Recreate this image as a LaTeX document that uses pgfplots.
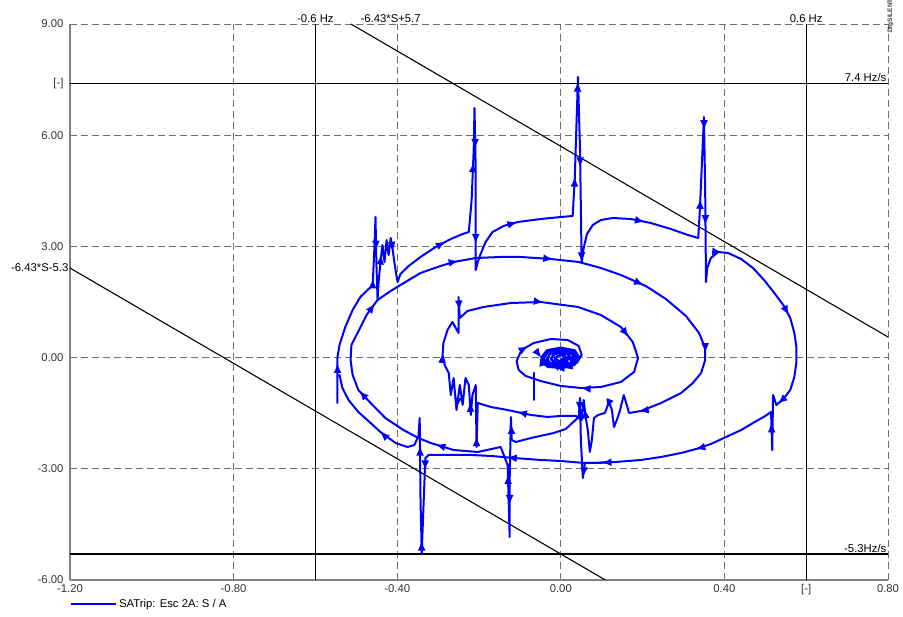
\documentclass[border=0pt]{standalone}
\usepackage{fontspec}
\setmainfont{Liberation Sans}
\usepackage{pgfplots}
\pgfplotsset{compat=1.18}
\usetikzlibrary{decorations.markings,arrows.meta}
\definecolor{trj}{RGB}{0,0,255}
\definecolor{gridgray}{RGB}{110,110,110}
\definecolor{axgray}{RGB}{130,130,130}
\begin{document}
\begin{tikzpicture}[font=\fontsize{11.3}{13}\selectfont]
\tikzset{
  traj/.style={trj, line width=2pt, line join=round, line cap=round},
  trajarr/.style={traj, postaction={decorate}, decoration={markings, mark=between positions 40pt and 1 step 95pt with {\arrow{Latex[length=10pt,width=8pt]}}}},
  refl/.style={black, line width=1.3pt},
}
\begin{axis}[
  scale only axis, width=818pt, height=556pt,
  at={(0,0)}, anchor=south west,
  xmin=-1.2, xmax=0.8, ymin=-6, ymax=9,
  axis x line*=bottom, axis y line*=left,
  axis line style={axgray, line width=1.4pt, -},
  xtick={-1.2,-0.8,-0.4,0,0.4,0.6,0.8},
  xticklabels={-1.20,-0.80,-0.40,0.00,0.40,{[-]},0.80},
  ytick={-6,-3,0,3,6,7.4,9},
  yticklabels={-6.00,-3.00,0.00,3.00,6.00,{[-]},9.00},
  major tick length=0pt,
  grid=major,
  major grid style={gridgray, line width=0.9pt, dash pattern=on 7pt off 4pt},
  tick label style={font=\fontsize{11.3}{13}\selectfont, text=black!80},
  xticklabel style={yshift=-1pt},
  yticklabel style={xshift=-3pt},
  clip mode=individual,
  legend style={at={(rel axis cs:0,0)}, anchor=north west, yshift=-17pt, draw=none, fill=none, inner sep=0pt, font=\fontsize{11.3}{13}\selectfont},
  legend cell align=left,
  legend image code/.code={\draw[#1] (0pt,0pt) -- (45pt,0pt);},
]
\addlegendimage{trj, line width=2pt}
\addlegendentry{SATrip: Esc 2A: S / A}

% reference lines
\addplot[refl, forget plot] coordinates {(-0.6,-6) (-0.6,9)};
\addplot[refl, forget plot] coordinates {(0.6,-6) (0.6,9)};
\addplot[refl, forget plot] coordinates {(-1.2,7.4) (0.8,7.4)};
\addplot[refl, forget plot] coordinates {(-1.2,-5.3) (0.8,-5.3)};
\addplot[black, line width=1.1pt, forget plot] coordinates {(-0.5132,9) (0.8,0.556)};
\addplot[black, line width=1.1pt, forget plot] coordinates {(-1.2,2.416) (0.1089,-6)};

% trajectory, outer loop
\addplot[trajarr, forget plot] coordinates {
(-0.546,-1.225) (-0.546,0.016) (-0.541,0.340) (-0.527,0.825) (-0.509,1.284) (-0.490,1.635) (-0.470,1.851) (-0.460,1.931) (-0.456,2.903) (-0.453,3.793) (-0.451,2.579) (-0.448,1.554) (-0.446,1.958) (-0.441,2.579) (-0.436,3.038) (-0.431,2.579) (-0.426,3.172) (-0.421,2.768) (-0.416,3.226) (-0.411,2.903) (-0.407,2.579) (-0.402,2.228) (-0.399,2.039) (-0.392,2.255) (-0.372,2.471) (-0.343,2.714) (-0.306,2.984) (-0.269,3.199) (-0.240,3.334) (-0.225,3.388) (-0.218,4.251) (-0.213,5.600) (-0.211,6.733) (-0.208,5.061) (-0.208,2.363) (-0.203,2.579) (-0.196,2.795) (-0.184,3.118) (-0.167,3.388) (-0.140,3.550) (-0.105,3.658) (-0.049,3.739) (0,3.793) (0.029,3.820) (0.034,4.791) (0.042,7.570) (0.047,5.600) (0.051,2.552) (0.056,2.957) (0.064,3.334) (0.078,3.577) (0.098,3.712) (0.127,3.766) (0.171,3.739) (0.220,3.631) (0.269,3.469) (0.311,3.307) (0.336,3.226) (0.340,3.982) (0.350,6.490) (0.353,4.521) (0.355,2.039) (0.358,2.417) (0.367,2.687) (0.385,2.849) (0.409,2.822) (0.441,2.660) (0.470,2.417) (0.497,2.093) (0.522,1.743) (0.544,1.419) (0.561,1.068) (0.571,0.664) (0.576,0.286) (0.576,-0.119) (0.571,-0.523) (0.561,-0.874) (0.544,-1.117) (0.527,-1.279) (0.519,-1.009) (0.517,-2.493) (0.514,-1.468) (0.500,-1.575) (0.470,-1.764) (0.441,-1.953) (0.404,-2.142) (0.367,-2.331) (0.331,-2.466) (0.294,-2.574) (0.245,-2.681) (0.196,-2.762) (0.135,-2.816) (0.086,-2.843) (0.056,-2.843) (0,-2.789) (-0.049,-2.762) (-0.115,-2.708) (-0.171,-2.654) (-0.220,-2.627) (-0.269,-2.627) (-0.323,-2.627) (-0.331,-2.708) (-0.333,-3.221) (-0.340,-5.271) (-0.343,-3.841) (-0.345,-1.629) (-0.348,-2.115) (-0.358,-2.358) (-0.375,-2.412) (-0.404,-2.304) (-0.441,-2.007) (-0.465,-1.764) (-0.495,-1.468) (-0.519,-1.144) (-0.534,-0.820) (-0.541,-0.469)
};

% trajectory, inner loops
\addplot[trajarr, forget plot] coordinates {
(0.122,-2.816) (0.086,-2.843) (0.059,-2.843) (0.054,-3.248) (0.049,-2.223) (0.047,-1.090) (0.044,-1.602) (0.012,-1.926) (-0.017,-2.034) (-0.073,-2.169) (-0.110,-2.277) (-0.120,-2.223) (-0.122,-1.602) (-0.125,-3.302) (-0.125,-4.840) (-0.130,-2.897) (-0.147,-2.412) (-0.203,-2.547) (-0.262,-2.493) (-0.318,-2.304) (-0.348,-2.169) (-0.385,-1.953) (-0.429,-1.629) (-0.465,-1.225) (-0.495,-0.874) (-0.509,-0.469) (-0.514,-0.065) (-0.512,0.340) (-0.497,0.664) (-0.475,1.149) (-0.448,1.554) (-0.416,1.797) (-0.392,1.958) (-0.343,2.282) (-0.294,2.471) (-0.262,2.579) (-0.208,2.687) (-0.147,2.714) (-0.098,2.714) (-0.024,2.660) (0.044,2.579) (0.098,2.417) (0.147,2.228) (0.208,1.931) (0.257,1.581) (0.306,1.122) (0.338,0.664) (0.353,0.259) (0.353,-0.065) (0.343,-0.415) (0.323,-0.685) (0.294,-0.955) (0.245,-1.225) (0.196,-1.441) (0.167,-1.494) (0.154,-1.009) (0.145,-1.414) (0.137,-1.683) (0.130,-1.872) (0.125,-1.414) (0.118,-1.198) (0.108,-1.494) (0.091,-1.548) (0.081,-1.629) (0.076,-2.223) (0.071,-2.547) (0.066,-1.953) (0.061,-1.629) (0.056,-1.144) (0.051,-1.683) (0.037,-1.575) (0,-1.575) (-0.032,-1.602) (-0.073,-1.548) (-0.130,-1.414) (-0.171,-1.333) (-0.203,-1.225) (-0.206,-2.412) (-0.208,-0.739) (-0.216,-1.009) (-0.220,-1.548) (-0.225,-0.739) (-0.233,-0.550) (-0.240,-1.279) (-0.247,-0.739) (-0.255,-1.414) (-0.262,-0.550) (-0.269,-1.009) (-0.274,-0.415) (-0.284,-0.200) (-0.289,0.070) (-0.287,0.394) (-0.277,0.745) (-0.265,0.960) (-0.250,0.664) (-0.250,1.635) (-0.247,1.068) (-0.228,1.257) (-0.189,1.365) (-0.122,1.473) (-0.049,1.500) (0.042,1.365) (0.098,1.149) (0.147,0.825) (0.176,0.421) (0.189,-0.011) (0.179,-0.388) (0.147,-0.658) (0.098,-0.793) (0.049,-0.820) (0,-0.766) (-0.049,-0.631) (-0.086,-0.496) (-0.103,-0.335) (-0.108,-0.092) (-0.096,0.205) (-0.066,0.394) (-0.024,0.502) (0.017,0.475) (0.044,0.313) (0.051,0.070) (0.039,-0.146) (0.005,-0.281) (-0.032,-0.254) (-0.049,-0.092) (-0.039,0.124) (-0.007,0.232) (0.029,0.178) (0.044,-0.011) (0.027,-0.200) (-0.010,-0.227) (-0.034,-0.092) (-0.027,0.097) (0.005,0.178) (0.032,0.070) (0.024,-0.146) (-0.007,-0.173) (-0.024,-0.038) (-0.012,0.124) (0.015,0.097) (0.022,-0.038) (0,-0.119) (-0.015,-0.011) (0,0.070) (0.012,0.016) (0.002,-0.038)
(0.046,0.0) (0.034,0.20) (0.0,0.27) (-0.034,0.20) (-0.048,0.0) (-0.034,-0.20) (0.0,-0.29) (0.034,-0.20)
(0.040,0.0) (0.029,0.17) (0.0,0.23) (-0.029,0.17) (-0.042,-0.02) (-0.029,-0.19) (0.0,-0.25) (0.029,-0.18)
(0.034,-0.02) (0.024,0.14) (0.0,0.19) (-0.024,0.13) (-0.034,-0.03) (-0.024,-0.17) (0.0,-0.21) (0.024,-0.15)
(0.026,-0.03) (0.018,0.09) (0.0,0.13) (-0.018,0.08) (-0.025,-0.04) (-0.017,-0.13) (0.0,-0.15) (0.016,-0.11)
(0.016,-0.04) (0.010,0.04) (0.0,0.06) (-0.010,0.03) (-0.014,-0.04) (-0.008,-0.08) (0.0,-0.08) (0.006,-0.05)
};

\addplot[traj, forget plot] coordinates {(-0.066,-0.415) (-0.066,-1.144)};

% annotations
\node[anchor=south, inner sep=1.5pt] at (axis cs:-0.6,9) {-0.6 Hz};
\node[anchor=south, inner sep=1.5pt] at (axis cs:-0.416,9) {-6.43*S+5.7};
\node[anchor=south, inner sep=1.5pt] at (axis cs:0.6,9) {0.6 Hz};
\node[anchor=south east, inner sep=1.5pt] at (axis cs:0.8,7.4) {7.4 Hz/s};
\node[anchor=south east, inner sep=1.5pt] at (axis cs:0.8,-5.3) {-5.3Hz/s};
\node[anchor=east, inner sep=1.5pt] at (axis cs:-1.2,2.416) {-6.43*S-5.3};
\node[rotate=90, anchor=center, inner sep=0pt, font=\fontsize{6.5}{7}\selectfont\bfseries, text=black!75, xshift=8pt, yshift=-2.5pt] at (rel axis cs:1,1) {DIgSILENT};
\end{axis}
\pgfresetboundingbox
\path[use as bounding box] (-70pt,-37pt) rectangle (833pt,580pt);
\end{tikzpicture}
\end{document}
